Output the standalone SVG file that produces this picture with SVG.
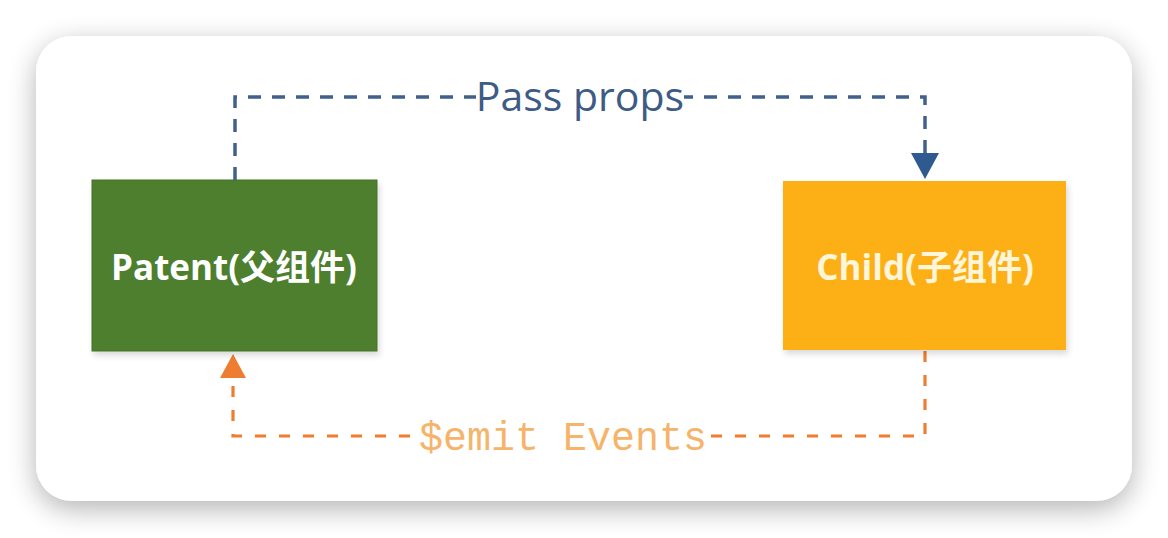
<svg xmlns="http://www.w3.org/2000/svg" width="1168" height="538" viewBox="0 0 1168 538">
<style>
.lbl{font-family:"Open Sans","Liberation Sans","Noto Sans CJK SC",sans-serif;font-weight:bold;font-size:35px;fill:#fff;text-anchor:middle}
.blue{fill:none;stroke:#41608C;stroke-width:3.5;stroke-dasharray:13 11}
.orng{fill:none;stroke:#EE7D31;stroke-width:3.2;stroke-dasharray:11 13}
</style>
<defs>
<filter id="sh" x="-10%" y="-10%" width="120%" height="130%">
<feGaussianBlur in="SourceAlpha" stdDeviation="14"/>
<feOffset dy="8"/>
<feComponentTransfer><feFuncA type="linear" slope="0.3"/></feComponentTransfer>
<feMerge><feMergeNode/><feMergeNode in="SourceGraphic"/></feMerge>
</filter>
<filter id="bs" x="-5%" y="-5%" width="115%" height="120%">
<feGaussianBlur in="SourceAlpha" stdDeviation="3"/>
<feOffset dx="2" dy="4"/>
<feComponentTransfer><feFuncA type="linear" slope="0.15"/></feComponentTransfer>
<feMerge><feMergeNode/><feMergeNode in="SourceGraphic"/></feMerge>
</filter>
</defs>
<rect width="1168" height="538" fill="#ffffff"/>
<rect x="36" y="36" width="1096" height="465" rx="36" fill="#ffffff" filter="url(#sh)"/>
<g id="connectors">
<path class="blue" d="M235 180 V97 H925 V155"/>
<polygon points="911,153 939,153 925,179" fill="#2F5A8F"/>
<path class="orng" d="M925 351 V436 H233 V378"/>
<polygon points="220,378 246,378 233,354" fill="#EE7D31"/>
<rect x="476" y="76" width="208" height="44" fill="#fff"/>
<text x="580" y="111" font-family="'Open Sans','Liberation Sans',sans-serif" font-size="41" fill="#3D5B85" text-anchor="middle">Pass props</text>
<rect x="418" y="414" width="290" height="44" fill="#fff"/>
<text x="563" y="450" font-family="'Liberation Mono','DejaVu Sans Mono',monospace" font-size="40" fill="#F6B46A" text-anchor="middle">$emit Events</text>
</g>
<g id="parent">
<rect x="92" y="180" width="285" height="171" fill="#4E7F2E" stroke="#46722A" stroke-width="1" filter="url(#bs)"/>
<text class="lbl" x="234" y="280">Patent(父组件)</text>
</g>
<g id="child">
<rect x="783" y="181" width="283" height="169" fill="#FDAF12" filter="url(#bs)"/>
<text class="lbl" x="925" y="280" style="fill:#FFF5D8">Child(子组件)</text>
</g>
</svg>
